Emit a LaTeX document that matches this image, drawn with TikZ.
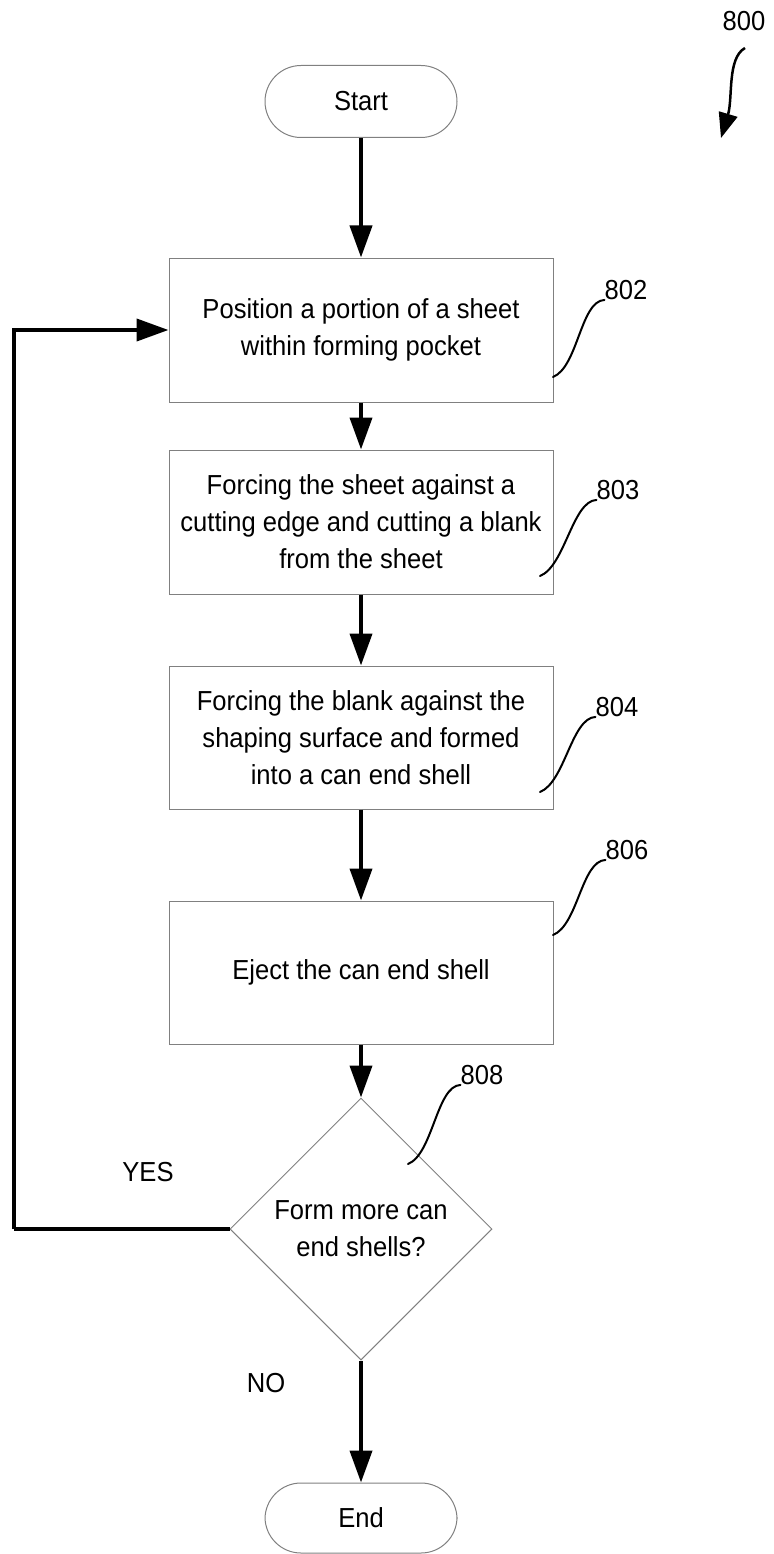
\documentclass[tikz,border=0pt]{standalone}
\usepackage{fontspec}
\setmainfont{Liberation Sans}[FakeStretch=0.93]
\usepackage{tikz}
\usetikzlibrary{arrows.meta, shapes.geometric}
\definecolor{edge}{HTML}{808080}

\begin{document}
\begin{tikzpicture}[
    x=1pt, y=-1pt,
    every node/.style={font=\fontsize{27.5}{37}\selectfont},
    stepbox/.style={draw=edge, line width=1pt, minimum width=384pt, align=center, inner sep=0pt},
    terminal/.style={draw=edge, line width=1pt, rounded corners=36pt, minimum width=192pt, minimum height=72pt},
    decision/.style={diamond, draw=edge, line width=1pt, minimum width=262pt, minimum height=262pt, inner sep=0pt, align=center},
    flow/.style={line width=4pt, -{Triangle[length=32pt, width=22pt]}},
    loopline/.style={line width=4pt},
    leader/.style={line width=2pt, line cap=round},
    refarrow/.style={line width=2.5pt, -{Triangle[length=25pt, width=19pt]}},
    refnum/.style={inner sep=0pt},
]
\useasboundingbox (0,0) rectangle (773,1554);

% =============================================
% TERMINALS AND STEPS
% =============================================
\node[terminal] (start) at (361,101.5) {Start};

\node[stepbox, minimum height=144pt] (position) at (361,330)
  {Position a portion of a sheet\\within forming pocket};
\node[stepbox, minimum height=144pt] (cutsheet) at (361,522)
  {Forcing the sheet against a\\cutting edge and cutting a blank\\from the sheet};
\node[stepbox, minimum height=143pt] (formshell) at (361,737.5)
  {Forcing the blank against the\\shaping surface and formed\\into a can end shell};
\node[stepbox, minimum height=143pt] (eject) at (361,972.5)
  {Eject the can end shell};

% Decision
\node[decision] (more) at (361,1229) {Form more can\\end shells?};

\node[terminal, minimum height=70pt] (finish) at (361,1518) {End};

% =============================================
% FLOW ARROWS
% =============================================
\draw[flow] (start) -- (position);
\draw[flow] (position) -- (cutsheet);
\draw[flow] (cutsheet) -- (formshell);
\draw[flow] (formshell) -- (eject);
\draw[flow] (eject) -- (more);
\draw[flow] (more) -- (finish);

% Loop back on YES
\coordinate (back) at (14,1229);
\draw[loopline] (more.west) -- (back);
\draw[flow] (back) |- (position.west);

\node (lblyes) at (148,1172) {YES};
\node (lblno) at (266,1383) {NO};

% =============================================
% REFERENCE NUMERALS
% =============================================
\node[refnum] (n800) at (744,21) {800};
\coordinate (s800) at (745,48);
\coordinate (e800) at (721,138);
\draw[refarrow] (s800) .. controls +(-18,10) and +(12,-40) .. (e800);

\node[refnum] (n802) at (626,290) {802};
\coordinate (s802) at (553,377);
\draw[leader] (s802) .. controls +(25,-10) and +(-24,1) .. (n802.south west);

\node[refnum] (n803) at (618,490) {803};
\coordinate (s803) at (540,576);
\draw[leader] (s803) .. controls +(25,-10) and +(-24,1) .. (n803.south west);

\node[refnum] (n804) at (617,707) {804};
\coordinate (s804) at (540,792);
\draw[leader] (s804) .. controls +(25,-10) and +(-24,1) .. (n804.south west);

\node[refnum] (n806) at (627,850) {806};
\coordinate (s806) at (553,935);
\draw[leader] (s806) .. controls +(25,-10) and +(-24,1) .. (n806.south west);

\node[refnum] (n808) at (482,1075) {808};
\coordinate (s808) at (408,1164);
\draw[leader] (s808) .. controls +(25,-10) and +(-24,1) .. (n808.south west);

\end{tikzpicture}
\end{document}
